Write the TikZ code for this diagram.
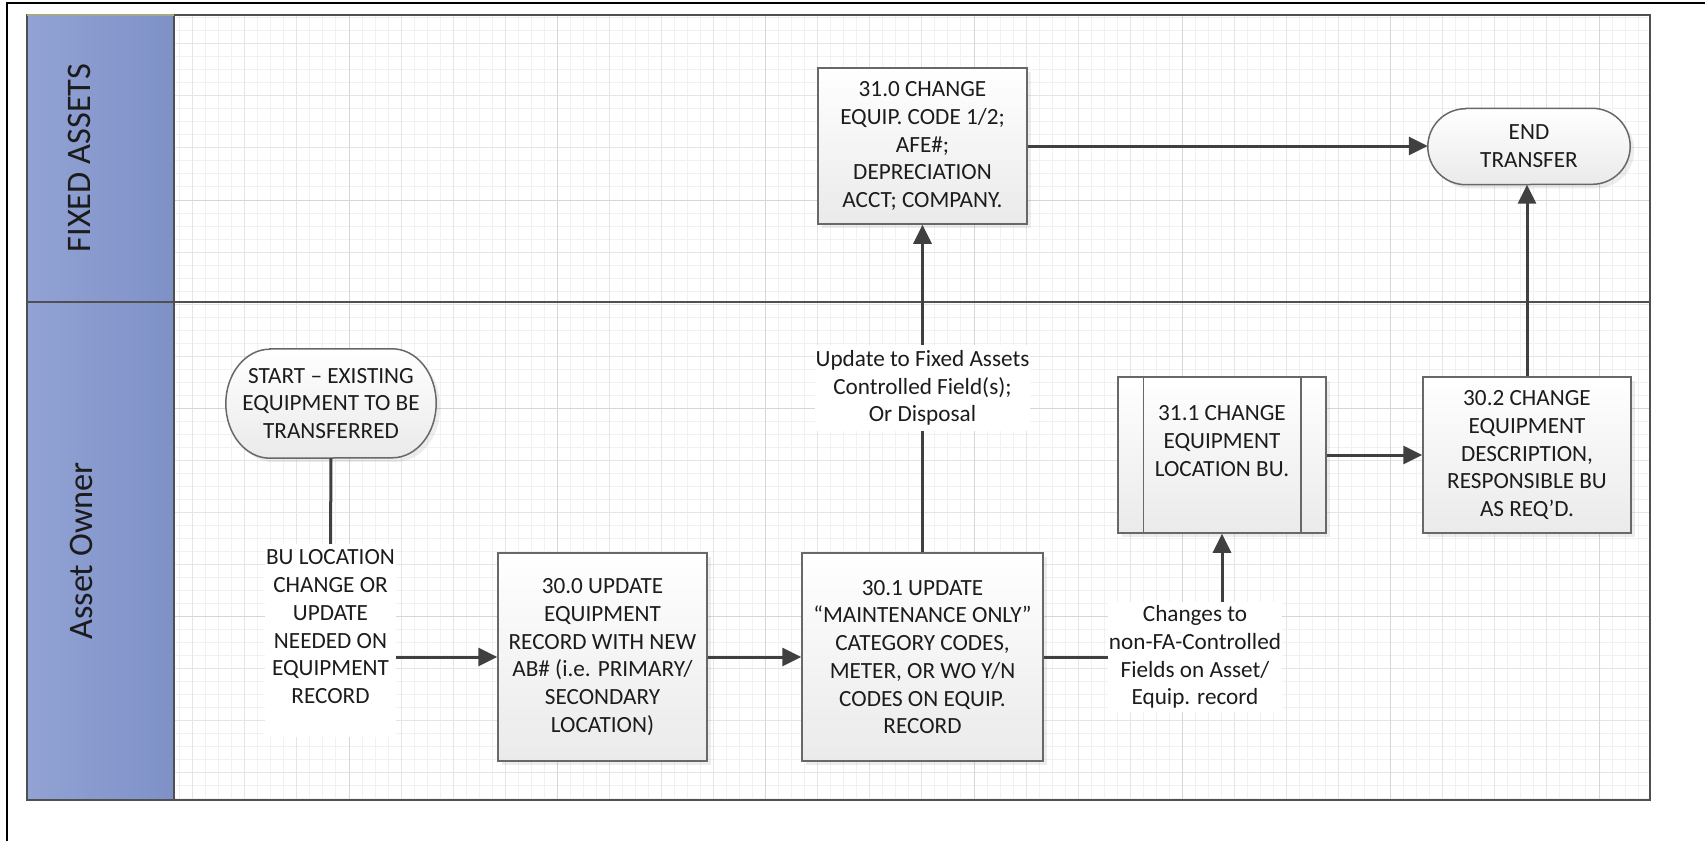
\documentclass[tikz,border=0pt]{standalone}
\usepackage{fontspec}
\setmainfont{Carlito}
\usetikzlibrary{arrows.meta,shadows}

\pgfdeclarelayer{gridlayer}
\pgfdeclarelayer{shapelayer}
\pgfsetlayers{gridlayer,shapelayer,main}

\definecolor{inkc}{RGB}{28,28,28}
\definecolor{edgec}{RGB}{104,104,104}
\definecolor{connc}{RGB}{64,64,64}
\definecolor{lanec}{RGB}{80,80,80}
\definecolor{hdrL}{RGB}{146,162,212}
\definecolor{hdrR}{RGB}{126,145,199}
\definecolor{hdrtop}{RGB}{168,168,132}
\definecolor{gridA}{RGB}{241,241,241}
\definecolor{gridB}{RGB}{229,229,229}
\definecolor{gridC}{RGB}{214,214,214}
\definecolor{boxbot}{RGB}{234,234,234}

\newcommand\flowfont{\fontsize{23.2}{27.75}\selectfont}
\newcommand\lanefont{\fontsize{34.4}{40}\selectfont}

\begin{document}
\begin{tikzpicture}[x=1pt,y=1pt,
  softshadow/.style={drop shadow={shadow xshift=4pt, shadow yshift=-4pt, opacity=0.14}},
  stepbox/.style={draw=edgec, line width=1.5pt, top color=white, bottom color=boxbot,
    text=inkc, font=\flowfont, align=center, inner sep=0pt, softshadow},
  termtext/.style={text=inkc, font=\flowfont, align=center, inner sep=0pt},
  termshape/.style={draw=edgec, line width=1.5pt, top color=white, bottom color=boxbot, softshadow},
  flowlabel/.style={fill=white, text=inkc, font=\flowfont, align=center, inner sep=0pt},
  conn/.style={draw=connc, line width=3pt},
  arr/.style={conn, -{Triangle[length=19pt,width=18pt]}},
  lane/.style={draw=lanec, line width=2.8pt},
  lanetitle/.style={text=inkc, font=\lanefont, rotate=90, anchor=base, inner sep=0pt},
  gridline/.style={line width=1pt},
]
\useasboundingbox (0,0) rectangle (1705,-841);

% page frame (top and left rules)
\draw[black, line width=2pt] (7,-841) -- (7,-2.5) -- (1705,-2.5);

% ---------- background: grid, swimlane header, lane rules ----------
\begin{pgfonlayer}{gridlayer}
  \begin{scope}
    \clip (174,-15) rectangle (1650,-800);
    \foreach \i [evaluate=\i as \gx using 140.667+\i*13.0208] in {3,...,116}
      \draw[gridline, gridA] (\gx,-15) -- (\gx,-800);
    \foreach \j [evaluate=\j as \gy using -200-\j*13.0208] in {-14,...,46}
      \draw[gridline, gridA] (174,\gy) -- (1650,\gy);
    \foreach \i [evaluate=\i as \gx using 140.667+\i*13.0208] in {4,8,...,116}
      \draw[gridline, gridB] (\gx,-15) -- (\gx,-800);
    \foreach \j [evaluate=\j as \gy using -200-\j*13.0208] in {-12,-8,...,44}
      \draw[gridline, gridB] (174,\gy) -- (1650,\gy);
    \foreach \i [evaluate=\i as \gx using 140.667+\i*13.0208] in {16,32,...,112}
      \draw[gridline, gridC] (\gx,-15) -- (\gx,-800);
    \foreach \j [evaluate=\j as \gy using -200-\j*13.0208] in {0,16,32}
      \draw[gridline, gridC] (174,\gy) -- (1650,\gy);
  \end{scope}
  \fill[left color=hdrL, right color=hdrR] (27,-15) rectangle (174,-800);
  \draw[lane] (27,-15) rectangle (1650,-800);
  \draw[lane] (27,-302) -- (1650,-302);
  \draw[lane] (174,-15) -- (174,-800);
  \draw[line width=2.8pt, hdrtop] (27,-15) -- (174,-15);
\end{pgfonlayer}

% ---------- lane titles ----------
\node[lanetitle] (laneFA) at (90,-158) {FIXED ASSETS};
\node[lanetitle] (laneAO) at (92,-551) {Asset Owner};

% ---------- process steps ----------
\node[stepbox, minimum width=209pt, minimum height=156pt] (n310) at (922.5,-146)
  {31.0 CHANGE\\EQUIP. CODE 1/2;\\AFE\#;\\DEPRECIATION\\ACCT; COMPANY.};
\node[termtext, minimum width=202pt, minimum height=76pt] (endT) at (1529,-146.5)
  {END\\TRANSFER};
\node[termtext, minimum width=210pt, minimum height=109pt] (start) at (331,-403.5)
  {START – EXISTING\\EQUIPMENT TO BE\\TRANSFERRED};
\node[stepbox, minimum width=209pt, minimum height=208pt] (n300) at (602.5,-657)
  {30.0 UPDATE\\EQUIPMENT\\RECORD WITH NEW\\AB\# (i.e. PRIMARY/\\SECONDARY\\LOCATION)};
\node[stepbox, minimum width=241pt, minimum height=208pt] (n301) at (922.5,-657)
  {30.1 UPDATE\\“MAINTENANCE ONLY”\\CATEGORY CODES,\\METER, OR WO Y/N\\CODES ON EQUIP.\\RECORD};
\node[stepbox, minimum width=208pt, minimum height=156pt] (n311) at (1222,-455)
  {31.1 CHANGE\\EQUIPMENT\\LOCATION BU.\\\mbox{}};
\node[stepbox, minimum width=208pt, minimum height=156pt] (n302) at (1527,-455)
  {30.2 CHANGE\\EQUIPMENT\\DESCRIPTION,\\RESPONSIBLE BU\\AS REQ’D.};

% side bars of the predefined-process step
\draw[draw=edgec, line width=1.5pt] ([xshift=26pt]n311.north west) -- ([xshift=26pt]n311.south west);
\draw[draw=edgec, line width=1.5pt] ([xshift=-26pt]n311.north east) -- ([xshift=-26pt]n311.south east);

% terminator outlines, drawn beneath their texts
\begin{pgfonlayer}{shapelayer}
  \path[termshape] ([xshift=44pt]start.north west) -- ([xshift=-44pt]start.north east)
    arc[start angle=90, end angle=-90, x radius=44pt, y radius=54.5pt]
    -- ([xshift=44pt]start.south west)
    arc[start angle=270, end angle=90, x radius=44pt, y radius=54.5pt] -- cycle;
  \path[termshape] ([xshift=38pt]endT.north west) -- ([xshift=-38pt]endT.north east)
    arc[start angle=90, end angle=-90, x radius=38pt, y radius=38pt]
    -- ([xshift=38pt]endT.south west)
    arc[start angle=270, end angle=90, x radius=38pt, y radius=38pt] -- cycle;
\end{pgfonlayer}

% ---------- connector labels ----------
\node[flowlabel, minimum width=131pt, minimum height=193pt] (bu) at (330.5,-640.5)
  {BU LOCATION\\CHANGE OR\\UPDATE\\NEEDED ON\\EQUIPMENT\\RECORD\\\mbox{}};
\node[flowlabel, minimum width=215pt, minimum height=86pt] (up) at (922.5,-388)
  {Update to Fixed Assets\\Controlled Field(s);\\Or Disposal};
\node[flowlabel, minimum width=174pt, minimum height=110pt] (ch) at (1195,-657)
  {Changes to\\non-FA-Controlled\\Fields on Asset/\\Equip. record};

% ---------- connectors ----------
\draw[conn] (start.south) -- (bu.north);
\draw[arr] (bu.east |- n300.west) -- (n300.west);
\draw[arr] (n300.east) -- (n301.west);
\draw[conn] (n301.north) -- (up.south);
\draw[arr] (up.north) -- (n310.south);
\draw[conn] (n301.east) -- (ch.west);
\draw[arr] (ch.north -| n311.south) -- (n311.south);
\draw[arr] (n311.east) -- (n302.west);
\draw[arr] (n302.north) -- (n302.north |- endT.south);
\draw[arr] (n310.east) -- (n310.east -| endT.west);
\end{tikzpicture}
\end{document}
